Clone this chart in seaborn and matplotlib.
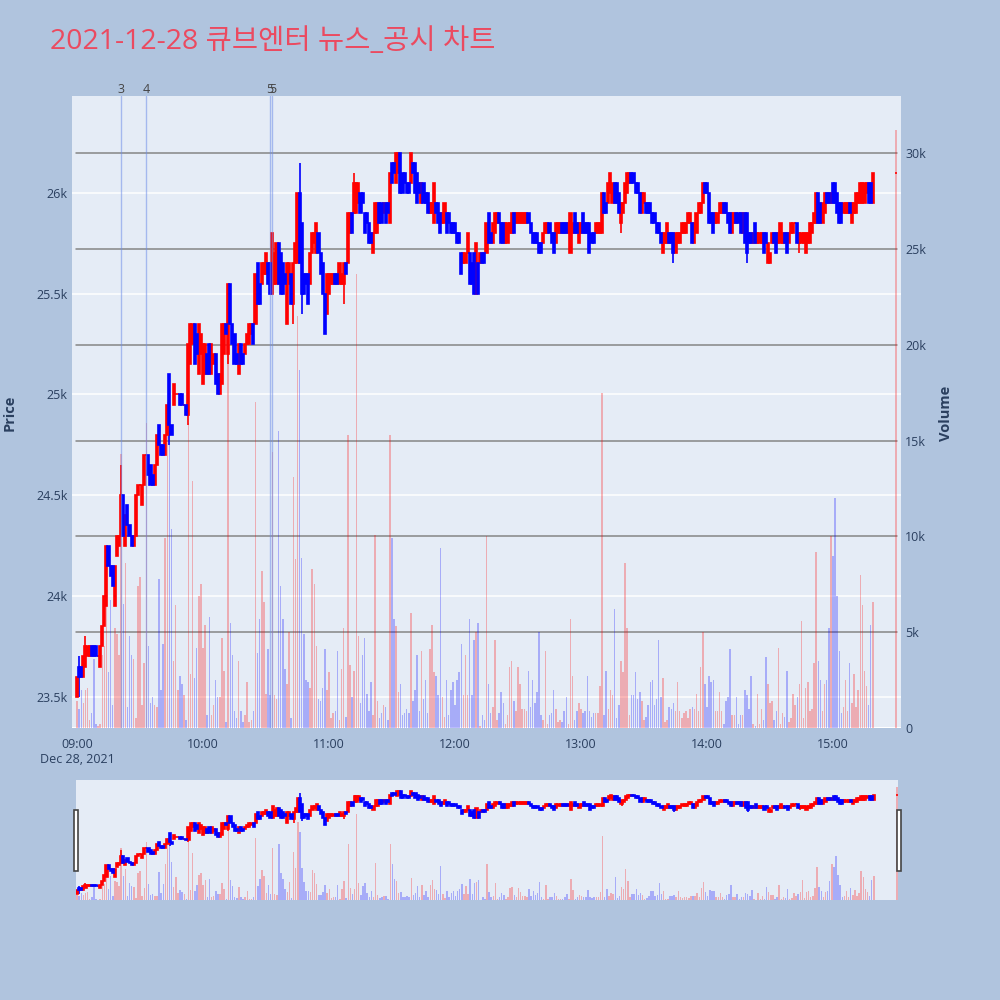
import numpy as np
import pandas as pd
import matplotlib
matplotlib.use("Agg")
import matplotlib.pyplot as plt
import matplotlib.transforms as mtransforms
from matplotlib.patches import Rectangle
import seaborn as sns

sns.set_theme(style="white")
plt.rcParams["font.family"] = ["Open Sans", "Noto Sans CJK KR", "DejaVu Sans"]

TITLE = "2021-12-28 큐브엔터 뉴스_공시 차트"

# minutes after 09:00 (regular session 09:00-15:19, closing auction at 15:30)
minutes = list(range(380)) + [390]

opens = [
    23500, 23650, 23650, 23600, 23650, 23700, 23700, 23750, 23750, 23750,
    23700, 23650, 23750, 23850, 23950, 24250, 24150, 24150, 23950, 24200,
    24250, 24300, 24500, 24250, 24450, 24350, 24300, 24250, 24300, 24500,
    24550, 24450, 24550, 24700, 24700, 24650, 24600, 24550, 24650, 24850,
    24750, 24750, 24700, 24800, 25100, 24850, 24950, 25000, 25000, 25000,
    25000, 24950, 24950, 24900, 25150, 25250, 25350, 25300, 25100, 25200,
    25050, 25100, 25200, 25250, 25100, 25150, 25200, 25100, 25000, 25050,
    25200, 25350, 25200, 25550, 25350, 25300, 25200, 25100, 25250, 25200,
    25200, 25250, 25250, 25300, 25350, 25350, 25650, 25550, 25550, 25600,
    25600, 25650, 25650, 25500, 25550, 25550, 25750, 25700, 25650, 25600,
    25350, 25550, 25600, 25450, 25650, 25650, 26000, 25850, 25600, 25600,
    25600, 25550, 25700, 25750, 25700, 25800, 25700, 25650, 25500, 25400,
    25500, 25550, 25550, 25600, 25600, 25550, 25550, 25550, 25650, 25650,
    25800, 25900, 25900, 25900, 25950, 26000, 26000, 25900, 25900, 25850,
    25800, 25700, 25800, 25800, 25950, 25950, 25900, 25950, 25950, 25850,
    26150, 26150, 26050, 26100, 26200, 26100, 26100, 26050, 26050, 26050,
    26150, 26150, 26100, 26050, 25950, 26050, 26000, 26000, 25900, 25900,
    25850, 25950, 25950, 25900, 25850, 25850, 25900, 25900, 25850, 25850,
    25850, 25800, 25800, 25700, 25650, 25650, 25700, 25700, 25650, 25700,
    25500, 25650, 25650, 25700, 25700, 25700, 25900, 25800, 25750, 25800,
    25850, 25900, 25850, 25850, 25750, 25750, 25800, 25800, 25900, 25850,
    25850, 25850, 25850, 25850, 25850, 25900, 25850, 25800, 25800, 25800,
    25750, 25750, 25750, 25800, 25800, 25850, 25800, 25800, 25750, 25800,
    25800, 25850, 25850, 25850, 25800, 25700, 25800, 25900, 25850, 25750,
    25800, 25900, 25850, 25850, 25850, 25800, 25800, 25800, 25800, 25800,
    25800, 26000, 25950, 25950, 26000, 25950, 26050, 26050, 26000, 25850,
    25900, 25950, 26000, 26050, 26100, 26100, 26050, 26050, 26000, 25900,
    25950, 25950, 25950, 25950, 25900, 25900, 25850, 25850, 25800, 25700,
    25750, 25750, 25800, 25800, 25800, 25700, 25750, 25750, 25800, 25800,
    25800, 25850, 25850, 25850, 25750, 25800, 25900, 25900, 25950, 26050,
    26050, 26000, 25900, 25900, 25850, 25850, 25900, 25900, 25950, 25950,
    25900, 25900, 25800, 25850, 25900, 25900, 25900, 25800, 25900, 25900,
    25800, 25800, 25750, 25850, 25750, 25750, 25750, 25800, 25800, 25650,
    25650, 25750, 25800, 25800, 25750, 25750, 25750, 25800, 25800, 25750,
    25800, 25800, 25850, 25850, 25750, 25750, 25750, 25700, 25750, 25750,
    25800, 25850, 25850, 26000, 25950, 25850, 25900, 26000, 26000, 25950,
    26050, 26050, 26000, 25950, 25950, 25900, 25900, 25900, 25950, 25850,
    25900, 25900, 25950, 25950, 25950, 25950, 26000, 26050, 26050, 25950,
    26100,
]

closes = [
    23600, 23600, 23600, 23700, 23750, 23750, 23750, 23700, 23700, 23700,
    23700, 23750, 23850, 24000, 24250, 24150, 24100, 24050, 24150, 24300,
    24300, 24500, 24300, 24400, 24350, 24300, 24250, 24300, 24500, 24550,
    24550, 24550, 24700, 24700, 24600, 24550, 24550, 24650, 24800, 24750,
    24700, 24700, 24800, 24950, 24850, 24800, 25050, 25000, 25000, 24950,
    24950, 24950, 24900, 25250, 25350, 25350, 25150, 25200, 25350, 25300,
    25250, 25250, 25100, 25100, 25250, 25200, 25050, 25000, 25100, 25350,
    25350, 25300, 25550, 25350, 25250, 25150, 25150, 25250, 25150, 25150,
    25250, 25300, 25350, 25350, 25250, 25600, 25450, 25450, 25650, 25650,
    25700, 25550, 25500, 25800, 25700, 25750, 25550, 25500, 25500, 25550,
    25650, 25650, 25450, 25650, 25750, 26000, 25650, 25500, 25500, 25550,
    25450, 25700, 25800, 25800, 25850, 25700, 25600, 25500, 25300, 25600,
    25600, 25600, 25600, 25550, 25550, 25650, 25600, 25650, 25600, 25900,
    25900, 25800, 26050, 26050, 26050, 25900, 25950, 25800, 25850, 25750,
    25750, 25800, 25950, 25950, 25850, 25850, 25950, 25850, 25900, 26100,
    26050, 26100, 26200, 26200, 26000, 26000, 26050, 26000, 26000, 26200,
    26100, 26000, 25950, 26000, 26050, 25950, 25950, 25900, 25950, 25950,
    26050, 25900, 25850, 25800, 25900, 25950, 25800, 25850, 25800, 25800,
    25800, 25750, 25750, 25600, 25700, 25700, 25800, 25550, 25550, 25500,
    25750, 25500, 25700, 25650, 25650, 25850, 25750, 25750, 25850, 25900,
    25900, 25850, 25750, 25750, 25850, 25850, 25850, 25900, 25800, 25900,
    25900, 25900, 25900, 25900, 25900, 25850, 25800, 25750, 25750, 25750,
    25700, 25700, 25800, 25850, 25850, 25800, 25750, 25700, 25850, 25850,
    25850, 25800, 25800, 25800, 25850, 25900, 25850, 25800, 25800, 25850,
    25850, 25800, 25800, 25800, 25700, 25750, 25750, 25850, 25850, 25850,
    26000, 25900, 25900, 26050, 26100, 26050, 25950, 25950, 25900, 25950,
    25950, 26050, 26100, 26100, 26050, 26050, 26000, 26000, 25900, 26000,
    26000, 25900, 25900, 25900, 25850, 25850, 25800, 25800, 25750, 25800,
    25800, 25850, 25750, 25750, 25700, 25800, 25800, 25800, 25850, 25850,
    25850, 25900, 25900, 25750, 25850, 25900, 25950, 25950, 26050, 26000,
    26000, 25850, 25850, 25800, 25900, 25900, 25950, 25950, 25900, 25900,
    25850, 25800, 25900, 25900, 25850, 25850, 25800, 25900, 25750, 25700,
    25750, 25750, 25800, 25750, 25800, 25800, 25800, 25700, 25750, 25750,
    25700, 25800, 25750, 25700, 25800, 25850, 25800, 25750, 25700, 25800,
    25850, 25850, 25850, 25750, 25800, 25800, 25800, 25800, 25800, 25850,
    25850, 25900, 26000, 25850, 25850, 25950, 26000, 25950, 25950, 26000,
    25950, 25950, 25900, 25850, 25850, 25950, 25950, 25950, 25900, 25950,
    25950, 26000, 26000, 26050, 26050, 26050, 26050, 25950, 25950, 26100,
    26100,
]

# wick extremes beyond the candle bodies (minute -> price)
wick_highs = {1: 23700, 4: 23800, 21: 24650, 106: 26150, 132: 26100}
wick_lows = {1: 23500, 44: 24750, 53: 24850, 72: 25150, 100: 25350,
             103: 25350, 107: 25400, 127: 25450, 259: 25800, 284: 25650,
             319: 25650, 330: 25650, 344: 25700}

volumes = [
    1400, 1000, 2000, 1300, 2000, 2100, 400, 800, 3600, 200,
    100, 200, 3800, 4300, 6400, 2900, 6700, 1200, 5200, 4900,
    3800, 14300, 6500, 8600, 1100, 4800, 3800, 3600, 500, 7400,
    7900, 1200, 3400, 15900, 4300, 1300, 1600, 1200, 1100, 7800,
    2000, 4400, 9900, 17000, 14800, 10400, 3500, 6400, 2000, 2700,
    2300, 1700, 400, 15900, 2800, 12900, 2600, 4200, 6900, 7500,
    4200, 5400, 700, 5800, 700, 1200, 2500, 1600, 1600, 4700,
    3000, 300, 19600, 5500, 3800, 900, 500, 3500, 900, 300,
    700, 2400, 300, 400, 900, 17000, 3900, 5700, 8200, 6600,
    1800, 4100, 1700, 14400, 1700, 1500, 15500, 7400, 5700, 3100,
    2300, 5000, 500, 13100, 8800, 21500, 18700, 8900, 4900, 2500,
    2400, 2100, 8300, 7500, 4300, 1500, 1400, 2100, 4100, 2000,
    2900, 500, 800, 900, 4000, 400, 3100, 5200, 600, 15300,
    3300, 1600, 3000, 23700, 4800, 1300, 3800, 4700, 1800, 900,
    2400, 700, 10100, 1400, 500, 800, 1200, 1100, 400, 15300,
    9900, 5700, 5300, 1900, 2300, 700, 800, 1000, 800, 6000,
    1400, 2000, 3800, 900, 4000, 1500, 2500, 800, 4100, 5400,
    2900, 2700, 1700, 9400, 1600, 600, 2500, 700, 2000, 2400,
    1200, 2500, 2900, 4400, 1700, 3800, 1700, 5700, 1700, 4600,
    5000, 5500, 100, 700, 400, 10000, 2300, 800, 1100, 4600,
    400, 800, 1900, 1300, 200, 700, 3200, 3500, 1400, 900,
    3200, 2300, 1000, 1000, 900, 3000, 1100, 2500, 1300, 1900,
    5000, 700, 400, 4000, 200, 700, 800, 2000, 1000, 300,
    400, 300, 900, 1600, 200, 5700, 2700, 400, 900, 1300,
    1000, 800, 900, 2700, 900, 600, 800, 800, 800, 2200,
    17500, 700, 3000, 1000, 2000, 1700, 6200, 500, 1200, 3500,
    2900, 8600, 5200, 700, 1700, 1700, 2900, 1500, 1900, 1400,
    400, 600, 1200, 2400, 2500, 1200, 1500, 4600, 1600, 2600,
    300, 400, 1100, 1000, 1300, 900, 2400, 900, 500, 800,
    900, 500, 1000, 1100, 1000, 1800, 900, 3200, 5000, 2300,
    1100, 2700, 2400, 2500, 900, 900, 1900, 900, 200, 1400,
    1600, 4100, 700, 700, 1600, 200, 700, 700, 2000, 1700,
    1000, 2700, 200, 100, 1800, 200, 1000, 400, 3700, 2300,
    1300, 1400, 400, 900, 4200, 200, 800, 600, 3000, 300,
    500, 1800, 1200, 1600, 2300, 5600, 500, 2100, 2400, 900,
    1000, 3400, 9200, 3500, 2500, 900, 2300, 2500, 5200, 10000,
    9000, 12000, 6900, 4000, 800, 1100, 2500, 900, 3400, 1300,
    2800, 1100, 2000, 8000, 6400, 3000, 2200, 1200, 5400, 6600,
    31200,
]

news_minutes = [21, 33, 92, 93]
news_labels = ["3", "4", "5", "5"]

hour_ticks = [0, 60, 120, 180, 240, 300, 360]
hour_labels = ["09:00\nDec 28, 2021", "10:00", "11:00", "12:00", "13:00", "14:00", "15:00"]
price_ticks = [23500, 24000, 24500, 25000, 25500, 26000]
price_labels = ["23.5k", "24k", "24.5k", "25k", "25.5k", "26k"]
vol_ticks = [0, 5000, 10000, 15000, 20000, 25000, 30000]
vol_labels = ["0", "5k", "10k", "15k", "20k", "25k", "30k"]

# ---------------------------------------------------------------------------
RED, BLUE = "#FF0000", "#0000FF"
BG_FIG, BG_PLOT = "#B0C4DE", "#E5ECF6"
TXT = "#2a3f5f"

x = np.array(minutes, dtype=float)
o = np.array(opens, dtype=float)
c = np.array(closes, dtype=float)
h = np.maximum(o, c)
l = np.minimum(o, c)
for k, v in wick_highs.items():
    h[k] = max(h[k], v)
for k, v in wick_lows.items():
    l[k] = min(l[k], v)
up = c >= o

df = pd.DataFrame({"minute": x, "volume": volumes,
                   "dir": np.where(up, "up", "down")})

PRICE_LIM = (23345, 26481)
VOL_LIM = (0, 33000)


def draw_volume(ax):
    sns.barplot(data=df, x="minute", y="volume", hue="dir",
                palette={"up": RED, "down": BLUE}, native_scale=True,
                dodge=False, width=0.7, alpha=0.27, errorbar=None,
                legend=False, saturation=1, linewidth=0, ax=ax, zorder=1)
    ax.set_xlabel("")
    ax.set_ylabel("")


def draw_candles(ax):
    for color, mask in ((RED, up), (BLUE, ~up)):
        ax.vlines(x[mask], l[mask], h[mask], color=color, lw=1.2, zorder=3)
        ax.bar(x[mask], (c - o)[mask], bottom=o[mask], width=1.0,
               color=color, edgecolor=color, linewidth=1.2, zorder=4)


fig = plt.figure(figsize=(10, 10), dpi=100, facecolor=BG_FIG)

# ---------------- main chart ----------------
rect = [0.072, 0.272, 0.829, 0.632]
ax_p = fig.add_axes(rect)
ax_v = ax_p.twinx()
ax_p.set_zorder(2)
ax_v.set_zorder(1)
ax_p.patch.set_visible(False)
ax_v.patch.set_visible(True)
ax_v.patch.set_facecolor(BG_PLOT)

draw_volume(ax_v)
draw_candles(ax_p)

XLIM = (-2.4, 392.4)
ax_p.set_xlim(*XLIM)
ax_v.set_xlim(*XLIM)
ax_p.set_ylim(*PRICE_LIM)
ax_v.set_ylim(*VOL_LIM)

# price grid (white) drawn behind the volume bars
blend = mtransforms.blended_transform_factory(ax_v.transAxes, ax_p.transData)
for pt in price_ticks:
    ax_v.plot([0, 1], [pt, pt], transform=blend, color="white", lw=1.1, zorder=0.5)
# volume grid (dark gray)
for vt in vol_ticks[1:]:
    ax_v.axhline(vt, xmin=0.005, xmax=0.995, color="#858585", lw=1.1, zorder=0.6)
ax_v.axhline(0, xmin=0.0, xmax=1.0, color="white", lw=1.5, zorder=0.6)

for a in (ax_p, ax_v):
    a.grid(False)
    for s in a.spines.values():
        s.set_visible(False)

ax_p.set_yticks(price_ticks)
ax_p.set_yticklabels(price_labels)
ax_p.tick_params(axis="y", left=False, labelleft=True, length=0, pad=3,
                 labelsize=9, labelcolor=TXT)
ax_v.set_yticks(vol_ticks)
ax_v.set_yticklabels(vol_labels)
ax_v.tick_params(axis="y", right=False, labelright=True, length=0, pad=3,
                 labelsize=9, labelcolor=TXT)
ax_p.set_xticks(hour_ticks)
ax_p.set_xticklabels(hour_labels)
ax_p.tick_params(axis="x", length=0, pad=7, labelsize=9, labelcolor=TXT)
ax_v.tick_params(axis="x", bottom=False, labelbottom=False)

# news / disclosure markers
top_blend = mtransforms.blended_transform_factory(ax_p.transData, ax_p.transAxes)
for m, lab in zip(news_minutes, news_labels):
    ax_p.axvline(m, color="#6f8ee8", lw=1.0, alpha=0.55, zorder=5)
    ax_p.text(m, 1.0, lab, transform=top_blend, ha="center", va="bottom",
              fontsize=9, color="#444444", zorder=6)

fig.text(0.050, 0.958, TITLE, fontsize=20.5, color="#EB4A60",
         ha="left", va="center")
fig.text(0.010, 0.587, "Price", rotation=90, fontsize=10.5, fontweight="bold",
         color=TXT, ha="center", va="center")
fig.text(0.946, 0.587, "Volume", rotation=90, fontsize=10.5, fontweight="bold",
         color=TXT, ha="center", va="center")

# ---------------- range slider ----------------
s_rect = [0.076, 0.100, 0.822, 0.120]
ax_s = fig.add_axes(s_rect)
ax_sv = ax_s.twinx()
ax_s.set_zorder(2)
ax_sv.set_zorder(1)
ax_s.patch.set_visible(False)
ax_sv.patch.set_visible(True)
ax_sv.patch.set_facecolor(BG_PLOT)
draw_volume(ax_sv)
draw_candles(ax_s)
for a in (ax_s, ax_sv):
    a.set_xlim(-0.5, 390.5)
    a.set_xticks([])
    a.set_yticks([])
    a.grid(False)
    for s in a.spines.values():
        s.set_visible(False)
ax_s.set_ylim(*PRICE_LIM)
ax_sv.set_ylim(*VOL_LIM)

for hx in (0.0735, 0.8965):
    fig.patches.append(Rectangle((hx, 0.129), 0.0045, 0.061,
                                 transform=fig.transFigure, facecolor="white",
                                 edgecolor="#444444", lw=1.2, zorder=10))

fig.savefig("out.png", dpi=100, facecolor=BG_FIG)
